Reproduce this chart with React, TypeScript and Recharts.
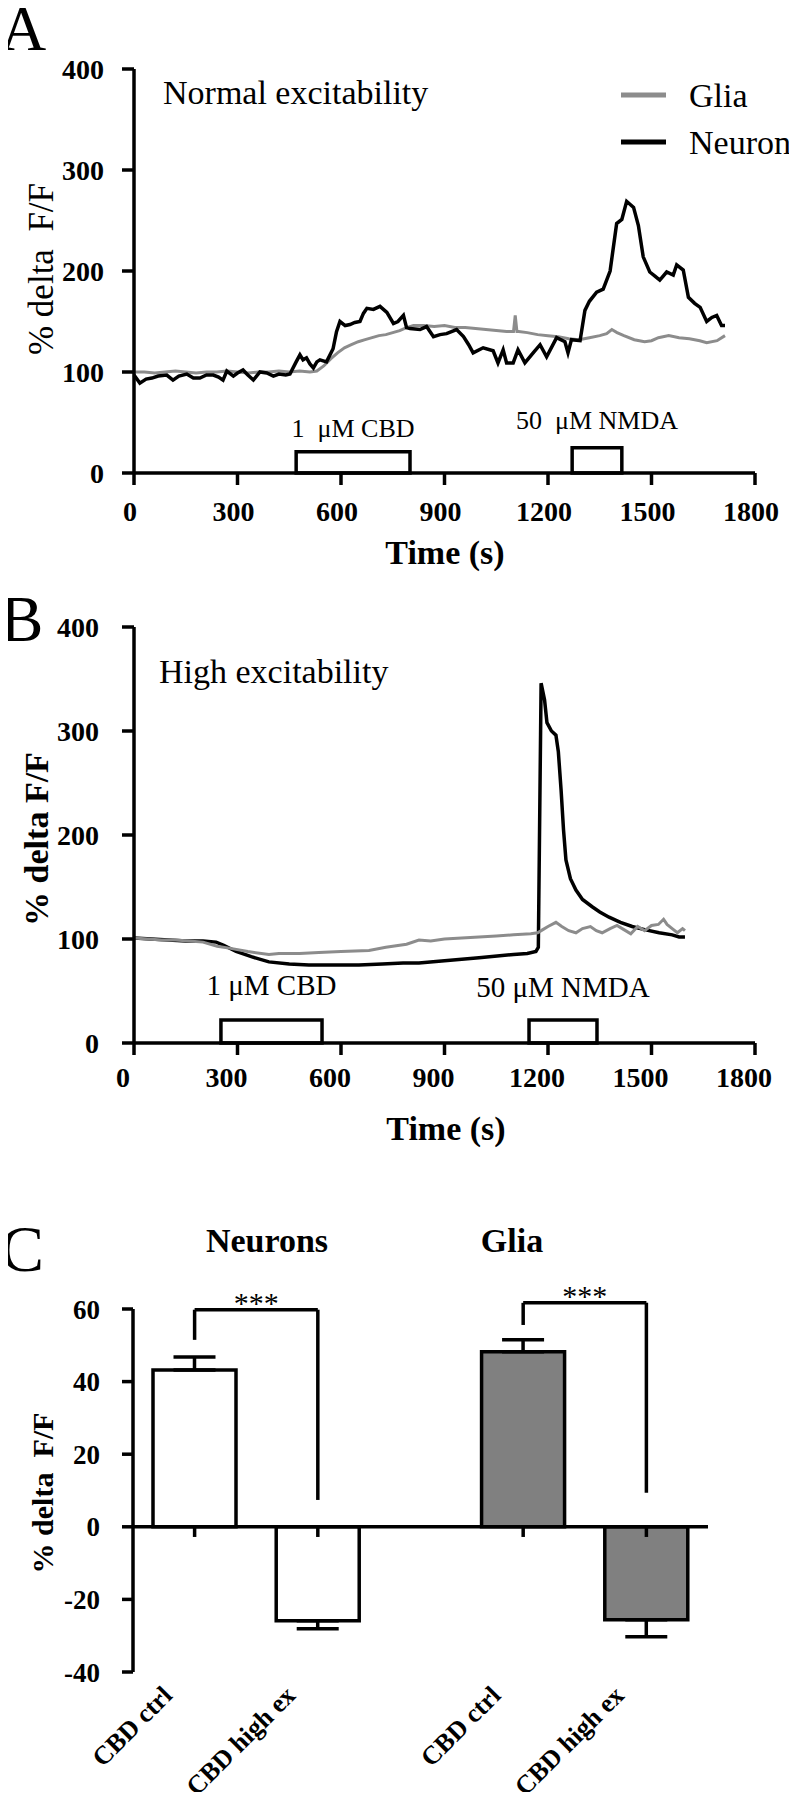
import React from 'react';
import {
  LineChart,
  Line,
  XAxis,
  YAxis,
  ReferenceArea,
  ReferenceLine,
  ComposedChart,
  Bar,
  Cell,
  ErrorBar,
} from 'recharts';

const SERIF = '"Liberation Serif", "Times New Roman", Times, serif';
const GRAY = '#8c8c8c';
const BAR_GRAY = '#808080';

// ---------- Shared axis ticks ----------
const timeTicks = [0, 300, 600, 900, 1200, 1500, 1800];
const traceYTicks = [0, 100, 200, 300, 400];

// ---------- Panel A: normal excitability ----------
const neuronATimes = [0, 17, 35, 52, 70, 95, 113, 130, 153, 172, 191, 210, 230, 245, 258, 269, 288, 300, 316, 330, 346, 365, 385, 404, 420, 440, 452, 470, 481, 490, 500, 510, 520, 530, 539, 558, 577, 587, 597, 612, 626, 640, 655, 665, 675, 694, 713, 733, 745, 752, 765, 781, 790, 800, 829, 848, 868, 887, 906, 935, 955, 970, 983, 1012, 1041, 1055, 1070, 1080, 1099, 1113, 1133, 1157, 1177, 1196, 1225, 1249, 1258, 1268, 1293, 1307, 1320, 1341, 1360, 1380, 1399, 1414, 1428, 1448, 1462, 1476, 1495, 1510, 1524, 1544, 1563, 1573, 1592, 1607, 1625, 1641, 1660, 1675, 1689, 1703, 1713];
const neuronAValues = [97, 89, 93, 94, 96, 97, 92, 96, 98, 94, 94, 97, 97, 95, 92, 101, 96, 99, 102, 97, 92, 100, 99, 96, 98, 97, 98, 110, 117, 112, 114, 108, 104, 110, 112, 110, 123, 140, 150, 146, 147, 149, 150, 158, 163, 162, 165, 159, 152, 148, 150, 156, 144, 143, 142, 145, 135, 137, 138, 142, 135, 127, 119, 124, 121, 109, 122, 109, 109, 122, 109, 119, 127, 115, 134, 130, 119, 132, 131, 161, 170, 179, 182, 200, 247, 251, 269, 263, 245, 214, 199, 195, 191, 199, 196, 206, 201, 174, 168, 164, 150, 154, 156, 146, 146];

const gliaATimes = [0, 30, 60, 90, 120, 150, 180, 210, 240, 270, 300, 330, 360, 390, 420, 450, 480, 510, 530, 550, 570, 590, 610, 630, 650, 670, 690, 710, 730, 750, 770, 790, 810, 840, 870, 900, 930, 960, 990, 1020, 1050, 1080, 1100, 1105, 1110, 1115, 1140, 1170, 1200, 1230, 1260, 1290, 1320, 1350, 1370, 1385, 1400, 1420, 1450, 1480, 1500, 1520, 1550, 1580, 1610, 1640, 1660, 1690, 1713];
const gliaAValues = [100, 100, 99, 100, 101, 100, 99, 100, 100, 101, 100, 99, 100, 100, 101, 100, 101, 100, 101, 106, 113, 119, 124, 127, 130, 132, 134, 136, 137, 139, 141, 144, 146, 146, 145, 146, 144, 144, 143, 142, 141, 140, 140, 156, 140, 140, 139, 137, 136, 135, 133, 132, 134, 136, 138, 142, 139, 136, 132, 130, 131, 134, 136, 134, 133, 131, 129, 131, 136];

const treatmentLabelsA = ['1 \u00A0\u03BCM CBD', '50 \u00A0\u03BCM NMDA'];
const treatmentStartsA = [470, 1270];
const treatmentEndsA = [800, 1414];
const treatmentLevelsA = [21, 25];

// ---------- Panel B: high excitability ----------
const neuronBTimes = [0, 50, 100, 150, 200, 238, 260, 296, 340, 391, 450, 507, 580, 652, 720, 780, 826, 900, 1000, 1060, 1100, 1140, 1165, 1172, 1180, 1190, 1197, 1210, 1223, 1230, 1238, 1245, 1252, 1265, 1281, 1300, 1328, 1350, 1377, 1410, 1444, 1480, 1522, 1560, 1580, 1597];
const neuronBValues = [101, 100, 99, 98, 98, 97, 94, 88, 83, 78, 76, 75, 75, 75, 76, 77, 77, 79, 82, 84, 85, 86, 88, 92, 346, 330, 308, 300, 296, 280, 243, 205, 176, 158, 147, 138, 131, 126, 121, 116, 112, 109, 106, 104, 102, 102];

const gliaBTimes = [0, 40, 80, 120, 160, 200, 241, 280, 330, 391, 420, 480, 536, 600, 681, 730, 790, 826, 860, 900, 950, 1000, 1050, 1100, 1150, 1170, 1185, 1200, 1223, 1240, 1260, 1281, 1300, 1323, 1340, 1357, 1380, 1400, 1420, 1440, 1460, 1480, 1500, 1520, 1535, 1545, 1560, 1575, 1590, 1597];
const gliaBValues = [101, 100, 99, 99, 98, 97, 93, 91, 88, 85, 86, 86, 87, 88, 89, 92, 95, 99, 98, 100, 101, 102, 103, 104, 105, 106, 109, 112, 116, 112, 108, 106, 110, 112, 108, 106, 110, 113, 109, 105, 112, 108, 113, 114, 119, 114, 110, 106, 110, 108];

const treatmentLabelsB = ['1 \u03BCM CBD', '50 \u03BCM NMDA'];
const treatmentStartsB = [252, 1145];
const treatmentEndsB = [545, 1342];
const treatmentLevelsB = [22, 22];

// ---------- Panel C: bar summary ----------
const groupNames = ['Neurons', 'Glia'];
const barCategories = ['CBD ctrl', 'CBD high ex', 'CBD ctrl', 'CBD high ex'];
const barGroups = ['Neurons', 'Neurons', 'Glia', 'Glia'];
const barMeans = [43.2, -25.9, 48.2, -25.6];
const barSems = [3.6, 2.2, 3.3, 4.7];
const barYTicks = [-40, -20, 0, 20, 40, 60];
const sigLabels = ['***', '***'];
const bracketTops = [59.8, 61.7];
const bracketLeftEnds = [51.5, 55.6];
const bracketRightEnds = [7.4, 9.4];

// ---------- derived tables ----------
const zip = (t: number[], v: number[]) => t.map((x, i) => ({ t: x, v: v[i] }));
const neuronA = zip(neuronATimes, neuronAValues);
const gliaA = zip(gliaATimes, gliaAValues);
const neuronB = zip(neuronBTimes, neuronBValues);
const gliaB = zip(gliaBTimes, gliaBValues);

const groupFills = ['#ffffff', BAR_GRAY];
// slot layout (code-level layout, not data): within-group step 3, group step 8
const barData = barCategories.map((label, i) => {
  const g = groupNames.indexOf(barGroups[i]);
  const within = barGroups.slice(0, i).filter((x) => x === barGroups[i]).length;
  const mean = barMeans[i];
  return {
    pos: 1.5 + within * 3 + g * 8,
    label,
    mean,
    err: mean >= 0 ? [0, barSems[i]] : [barSems[i], 0],
    fill: groupFills[g],
  };
});

const AXIS = { stroke: '#000', strokeWidth: 3.5 };
const traceTick = (dx: number) => ({
  fill: '#000',
  fontSize: 28,
  fontWeight: 700,
  fontFamily: SERIF,
  dx,
});

const labelOffsetsA = [15, 19];
const labelOffsetsB = [25, 23];

function treatmentBoxes(
  labels: string[],
  starts: number[],
  ends: number[],
  levels: number[],
  offsets: number[],
  fontSize: number
) {
  return labels.map((lab, i) => (
    <ReferenceArea
      key={lab}
      x1={starts[i]}
      x2={ends[i]}
      y1={0}
      y2={levels[i]}
      fill="#ffffff"
      fillOpacity={1}
      stroke="#000"
      strokeWidth={3.5}
      label={{
        value: lab,
        position: 'top',
        offset: offsets[i],
        fill: '#000',
        fontSize,
        fontFamily: SERIF,
      }}
    />
  ));
}

const renderBarTick = (props: any) => {
  const { x, y, payload } = props;
  const d = barData.find((b) => b.pos === payload.value);
  const ax = x - 21;
  const ay = y + 25;
  return (
    <text
      x={ax}
      y={ay}
      transform={`rotate(-45 ${ax} ${ay})`}
      textAnchor="end"
      fill="#000"
      fontSize={26}
      fontWeight={700}
      fontFamily={SERIF}
    >
      {d ? d.label : ''}
    </text>
  );
};

const ZERO_TICK = 2.8;

export default function App() {
  return (
    <div
      style={{
        position: 'relative',
        width: 797,
        height: 1800,
        margin: '-8px -8px -8px -8px',
        background: '#fff',
        fontFamily: SERIF,
        overflow: 'hidden',
      }}
    >
      {/* Panel A */}
      <div style={{ position: 'absolute', left: 0, top: 0 }}>
        <LineChart width={797} height={600} margin={{ top: 69, right: 42, bottom: 67, left: 74 }}>
          <XAxis
            type="number"
            dataKey="t"
            domain={[0, 1800]}
            ticks={timeTicks}
            interval={0}
            height={60}
            axisLine={AXIS}
            tickLine={AXIS}
            tickSize={12}
            tickMargin={16}
            tick={traceTick(-4)}
          />
          <YAxis
            type="number"
            domain={[0, 400]}
            ticks={traceYTicks}
            interval={0}
            width={60}
            axisLine={AXIS}
            tickLine={AXIS}
            tickSize={12}
            tickMargin={18}
            tick={traceTick(0)}
          />
          {treatmentBoxes(treatmentLabelsA, treatmentStartsA, treatmentEndsA, treatmentLevelsA, labelOffsetsA, 26)}
          <Line data={gliaA} dataKey="v" type="linear" stroke={GRAY} strokeWidth={3} dot={false} isAnimationActive={false} />
          <Line data={neuronA} dataKey="v" type="linear" stroke="#000" strokeWidth={3.5} dot={false} isAnimationActive={false} />
        </LineChart>
      </div>

      {/* Panel B */}
      <div style={{ position: 'absolute', left: 0, top: 580 }}>
        <LineChart width={797} height={560} margin={{ top: 47, right: 42, bottom: 37, left: 74 }}>
          <XAxis
            type="number"
            dataKey="t"
            domain={[0, 1800]}
            ticks={timeTicks}
            interval={0}
            height={60}
            axisLine={AXIS}
            tickLine={AXIS}
            tickSize={12}
            tickMargin={12}
            tick={traceTick(-11)}
          />
          <YAxis
            type="number"
            domain={[0, 400]}
            ticks={traceYTicks}
            interval={0}
            width={60}
            axisLine={AXIS}
            tickLine={AXIS}
            tickSize={12}
            tickMargin={23}
            tick={traceTick(0)}
          />
          {treatmentBoxes(treatmentLabelsB, treatmentStartsB, treatmentEndsB, treatmentLevelsB, labelOffsetsB, 29)}
          <Line data={neuronB} dataKey="v" type="linear" stroke="#000" strokeWidth={3.5} dot={false} isAnimationActive={false} />
          <Line data={gliaB} dataKey="v" type="linear" stroke={GRAY} strokeWidth={3} dot={false} isAnimationActive={false} />
        </LineChart>
      </div>

      {/* Panel C */}
      <div style={{ position: 'absolute', left: 0, top: 1140 }}>
        <ComposedChart width={797} height={660} data={barData} margin={{ top: 169, right: 89, bottom: 68, left: 73 }}>
          <XAxis
            type="number"
            dataKey="pos"
            domain={[0, 14]}
            ticks={barData.map((d) => d.pos)}
            interval={0}
            height={60}
            axisLine={false}
            tickLine={false}
            tickSize={0}
            tickMargin={0}
            tick={renderBarTick}
          />
          <YAxis
            type="number"
            domain={[-40, 60]}
            ticks={barYTicks}
            interval={0}
            width={60}
            axisLine={AXIS}
            tickLine={AXIS}
            tickSize={11}
            tickMargin={22}
            tick={{ fill: '#000', fontSize: 27, fontWeight: 700, fontFamily: SERIF }}
          />
          <Bar dataKey="mean" barSize={83} stroke="#000" strokeWidth={3.5} isAnimationActive={false}>
            {barData.map((d, i) => (
              <Cell key={i} fill={d.fill} />
            ))}
            <ErrorBar dataKey="err" width={21} strokeWidth={3.5} stroke="#000" direction="y" />
          </Bar>
          <ReferenceLine y={0} stroke="#000" strokeWidth={3.5} />
          {barData.map((d, i) => (
            <ReferenceLine
              key={`zt${i}`}
              segment={[
                { x: d.pos, y: 0 },
                { x: d.pos, y: -ZERO_TICK },
              ]}
              stroke="#000"
              strokeWidth={3.5}
              ifOverflow="visible"
            />
          ))}
          {groupNames.map((g, gi) => {
            const members = barData.filter((_, i) => barGroups[i] === g);
            const xl = members[0].pos;
            const xr = members[1].pos;
            return (
              <React.Fragment key={g}>
                <ReferenceLine
                  segment={[
                    { x: xl, y: bracketLeftEnds[gi] },
                    { x: xl, y: bracketTops[gi] },
                  ]}
                  stroke="#000"
                  strokeWidth={3.5}
                  ifOverflow="visible"
                />
                <ReferenceLine
                  segment={[
                    { x: xl, y: bracketTops[gi] },
                    { x: xr, y: bracketTops[gi] },
                  ]}
                  stroke="#000"
                  strokeWidth={3.5}
                  ifOverflow="visible"
                  label={{
                    value: sigLabels[gi],
                    position: 'top',
                    offset: -3,
                    fill: '#000',
                    fontSize: 30,
                    fontFamily: SERIF,
                  }}
                />
                <ReferenceLine
                  segment={[
                    { x: xr, y: bracketTops[gi] },
                    { x: xr, y: bracketRightEnds[gi] },
                  ]}
                  stroke="#000"
                  strokeWidth={3.5}
                  ifOverflow="visible"
                />
              </React.Fragment>
            );
          })}
        </ComposedChart>
      </div>

      {/* Annotation overlay */}
      <svg
        width={797}
        height={1800}
        style={{ position: 'absolute', left: 0, top: 0, pointerEvents: 'none' }}
        fontFamily={SERIF}
      >
        <text x={0} y={50} fontSize={64} fill="#000">A</text>
        <text x={0} y={641} fontSize={65} fill="#000">B</text>
        <text x={0} y={1271} fontSize={66} fill="#000">C</text>

        <text x={163} y={104} fontSize={34} fill="#000">Normal excitability</text>
        <line x1={621} y1={95} x2={666} y2={95} stroke={GRAY} strokeWidth={5} />
        <text x={689} y={107} fontSize={34} fill="#000">Glia</text>
        <line x1={621} y1={142} x2={666} y2={142} stroke="#000" strokeWidth={5} />
        <text x={689} y={154} fontSize={34} fill="#000">Neuron</text>
        <text x={445} y={564} fontSize={34} fontWeight={700} textAnchor="middle" fill="#000">Time (s)</text>
        <text transform="translate(53,269) rotate(-90)" fontSize={35} textAnchor="middle" fill="#000">
          {'% delta \u00A0F/F'}
        </text>

        <text x={159} y={683} fontSize={34} fill="#000">High excitability</text>
        <text x={446} y={1140} fontSize={34} fontWeight={700} textAnchor="middle" fill="#000">Time (s)</text>
        <text transform="translate(48,839) rotate(-90)" fontSize={34} fontWeight={700} textAnchor="middle" fill="#000">
          {'% delta F/F'}
        </text>

        <text x={267} y={1252} fontSize={34} fontWeight={700} textAnchor="middle" fill="#000">Neurons</text>
        <text x={512} y={1252} fontSize={34} fontWeight={700} textAnchor="middle" fill="#000">Glia</text>
        <text transform="translate(53,1493) rotate(-90)" fontSize={30} fontWeight={700} textAnchor="middle" fill="#000">
          {'% delta \u00A0F/F'}
        </text>
      </svg>
    </div>
  );
}
